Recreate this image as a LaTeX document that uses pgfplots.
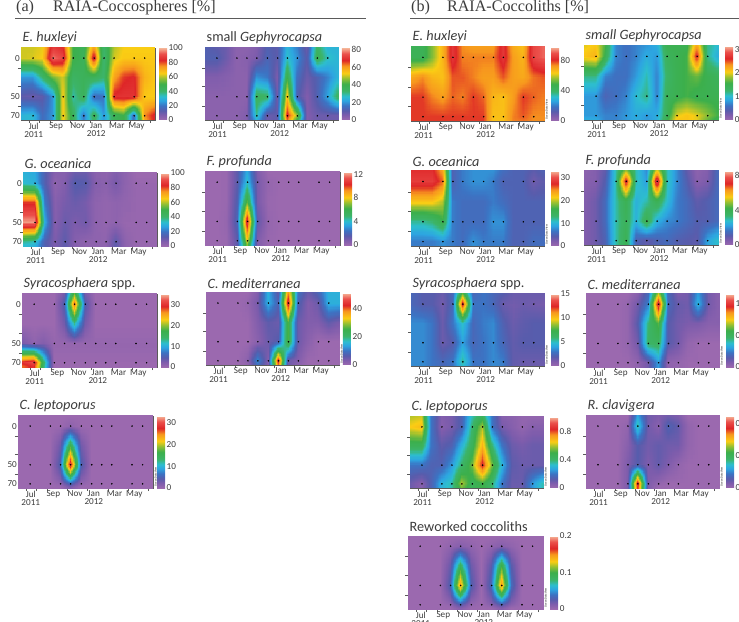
\documentclass[border=0pt]{standalone}
\usepackage{fontspec}
\setmainfont{Carlito}
\newfontfamily\serifhead{Liberation Serif}
\usepackage{pgfplots}
\usepgfplotslibrary{patchplots}
\pgfplotsset{compat=1.18}
\definecolor{frame}{HTML}{5A5A5A}
\definecolor{txt}{HTML}{3C3C3C}
\pgfplotsset{
  colormap={raia}{rgb255(0)=(155,105,175) rgb255(7)=(125,92,172) rgb255(13)=(88,92,172) rgb255(20)=(60,115,195) rgb255(27)=(45,165,225) rgb255(33)=(45,190,205) rgb255(40)=(60,180,105) rgb255(50)=(60,175,75) rgb255(58)=(150,192,50) rgb255(65)=(250,205,20) rgb255(75)=(247,150,30) rgb255(83)=(222,38,40) rgb255(92)=(235,80,75) rgb255(100)=(245,182,152)},
  odv/.style={colorbar style={at={(1.053,1)}},extra description/.append code={\node[rotate=90,anchor=north west,inner sep=0pt,font=\fontsize{2.8}{3}\selectfont] at (rel axis cs:1.012,0.02) {Ocean Data View};}}
}
\def\getx{\ifcase\numexpr\coordindex-14*((2*\coordindex-13)/28)\relax 0\or 1.17\or 2.1\or 3.12\or 4.1\or 5.07\or 6.1\or 7.1\or 8.06\or 9.03\or 10\or 10.98\or 12\or 13\fi}
\def\gety{\ifcase\numexpr(2*\coordindex-13)/28\relax -13\or 0\or 25\or 50\or 74.6\or 80\fi}
% #1 left, #2 top (pixels from the top), #3 width, #4 height, #5 title, #6 colour maximum, #7 colour bar ticks, #8 options, #9 values
\newcommand\panel[9]{%
\begin{axis}[at={(#1bp,622bp-#2bp)},anchor=north west,scale only axis,width=#3bp,height=#4bp,
  xmin=0,xmax=13,ymin=-13,ymax=80,y dir=reverse,
  axis line style={frame,line width=.7bp},
  xtick={1.23,3.4,5.5,7.3,9.3,11.2},
  xticklabels={{Jul\\[-1.2bp]2011},Sep,Nov,{Jan\\[-1.2bp]2012},Mar,May},
  xticklabel style={align=center,font=\fontsize{9.2}{9.5}\selectfont,text=txt,inner sep=0pt,anchor=north,yshift=-2.5bp},
  major tick length=0pt,
  minor xtick={0.84,1.8,2.84,4.77,6.7,8.65,10.6,12.55},
  minor ytick={13,37,62},
  minor tick length=3bp,
  tick align=outside,
  minor tick style={frame,line width=.5bp},
  ytick={0,50,74.6},yticklabels={},
  yticklabel style={font=\fontsize{9.2}{9.5}\selectfont,text=txt,inner sep=1pt},
  xtick pos=bottom,ytick pos=left,
  title={\itshape #5},
  title style={at={(0,1)},anchor=south west,xshift=1.5bp,yshift=-2bp,inner sep=0pt,text=txt,font=\fontsize{14.3}{15}\selectfont},
  colormap name=raia,
  point meta min=0,point meta max=#6,
  colorbar,
  colorbar style={at={(1.03,1)},anchor=north west,width=8bp,
    ytick={#7},
    y tick label style={font=\fontsize{9.2}{9.5}\selectfont,text=txt,inner sep=1.5pt,/pgf/number format/assume math mode=true},
    major tick length=0pt,
    axis line style={draw=none}},
  #8]
\addplot[surf,patch type=bilinear,shader=interp,mesh/rows=6,mesh/cols=14,point meta=explicit]
  table[row sep=crcr,header=false,x expr=\getx,y expr=\gety,meta index=0]{#9};
\addplot[only marks,mark=*,mark size=.55bp,mark options={fill=black!85,draw=none}] coordinates {
(1.17,0)(3.12,0)(4.1,0)(5.07,0)(6.1,0)(7.1,0)(8.06,0)(9.03,0)(10.98,0)(12,0)
(1.17,50)(3.12,50)(4.1,50)(5.07,50)(6.1,50)(7.1,50)(8.06,50)(9.03,50)(10.98,50)(12,50)
(1.17,74.6)(3.12,74.6)(4.1,74.6)(5.07,74.6)(6.1,74.6)(7.1,74.6)(8.06,74.6)(9.03,74.6)(10.98,74.6)(12,74.6)};
\end{axis}}
\begin{document}
\begin{tikzpicture}
\useasboundingbox (0,0) rectangle (739bp,622bp);
\node[anchor=base west,inner sep=0pt,text=txt,font=\serifhead\fontsize{16.2}{17}\selectfont] at (16bp,622bp-12bp) {(a)\hspace{19bp}RAIA-Coccospheres [\%]};
\node[anchor=base west,inner sep=0pt,text=txt,font=\serifhead\fontsize{16.2}{17}\selectfont] at (411bp,622bp-12bp) {(b)\hspace{17bp}RAIA-Coccoliths [\%]};
\draw[frame,line width=1bp] (15bp,622bp-18.5bp) -- (366bp,622bp-18.5bp);
\draw[frame,line width=1bp] (410bp,622bp-18.5bp) -- (739bp,622bp-18.5bp);

\panel{21}{48}{134}{72}{E. huxleyi}{100}{0,20,40,60,80,100}{yticklabels={0,50,70}}{
62\\62\\64\\88\\84\\50\\45\\74\\40\\60\\65\\65\\65\\65\\
62\\63\\65\\95\\90\\50\\45\\88\\38\\62\\66\\66\\66\\66\\
25\\25\\40\\55\\62\\42\\45\\45\\40\\72\\82\\84\\70\\66\\
12\\10\\12\\25\\66\\35\\45\\18\\20\\85\\86\\86\\66\\65\\
30\\32\\18\\25\\66\\45\\20\\45\\25\\45\\50\\18\\75\\85\\
30\\32\\18\\25\\66\\45\\22\\42\\25\\45\\50\\18\\72\\85\\}

\panel{205}{48}{133}{72}{\upshape small \itshape Gephyrocapsa}{82}{0,20,40,60,80}{}{
12\\10\\8\\3\\3\\5\\12\\10\\25\\18\\8\\35\\25\\25\\
12\\12\\8\\3\\4\\6\\13\\10\\27\\20\\10\\38\\28\\25\\
5\\5\\4\\3\\3\\20\\17\\6\\40\\15\\8\\12\\18\\25\\
3\\3\\3\\3\\3\\36\\34\\8\\55\\12\\5\\12\\22\\35\\
3\\3\\3\\3\\5\\30\\8\\10\\70\\48\\5\\8\\8\\8\\
3\\3\\3\\3\\5\\25\\8\\10\\65\\40\\5\\8\\8\\8\\}

\panel{23}{173}{134}{73}{G. oceanica}{100}{0,20,40,60,80,100}{yticklabels={0,50,70}}{
30\\28\\15\\5\\5\\10\\10\\4\\3\\6\\3\\0\\0\\0\\
32\\30\\15\\3\\6\\14\\13\\5\\4\\8\\3\\1\\1\\1\\
82\\82\\22\\5\\8\\10\\8\\3\\2\\3\\2\\1\\1\\1\\
98\\98\\30\\5\\10\\7\\9\\3\\2\\3\\1\\1\\1\\1\\
38\\35\\15\\7\\12\\5\\3\\3\\3\\12\\3\\1\\1\\1\\
32\\30\\15\\7\\12\\5\\3\\3\\3\\12\\3\\1\\1\\1\\}

\panel{205}{172}{135}{73}{F. profunda}{12.4}{0,4,8,12}{}{
0\\0\\.1\\1.5\\3.5\\.8\\0\\0\\0\\0\\0\\0\\0\\0\\
0\\0\\.1\\1.5\\4\\1\\.2\\0\\0\\0\\0\\0\\0\\0\\
0\\0\\.1\\1.8\\6.5\\1\\.1\\0\\0\\0\\0\\0\\0\\0\\
0\\0\\.2\\2\\11\\1.5\\.2\\0\\0\\0\\0\\0\\0\\0\\
0\\0\\.1\\1.5\\8\\.8\\.1\\0\\0\\0\\0\\0\\0\\0\\
0\\0\\.1\\1.5\\7\\.8\\.1\\0\\0\\0\\0\\0\\0\\0\\}

\panel{22}{294}{135}{73}{Syracosphaera \upshape spp.}{35}{0,10,20,30}{yticklabels={0,50,70}}{
0\\0\\0\\0\\3\\19\\3\\0\\0\\0\\0\\0\\0\\0\\
0\\0\\0\\0\\5\\28\\5\\0\\0\\0\\0\\0\\0\\0\\
0\\0\\0\\0\\3\\13\\3\\0\\0\\0\\0\\0\\0\\0\\
3\\1\\2\\.5\\.5\\.5\\.5\\.5\\.5\\.5\\.5\\.5\\.5\\.5\\
30\\32\\15\\0\\0\\0\\0\\0\\0\\0\\0\\0\\0\\0\\
27\\30\\14\\0\\0\\0\\0\\0\\0\\0\\0\\0\\0\\0\\}

\panel{206}{293}{133}{72}{C. mediterranea}{51}{0,20,40}{odv,colorbar style={at={(1.03,1)}}}{
0\\0\\0\\0\\0\\3\\15\\6\\38\\10\\5\\8\\15\\15\\
0\\0\\0\\0\\1\\4\\15\\8\\45\\8\\3\\5\\15\\15\\
0\\0\\0\\0\\0\\3\\6\\5\\26\\5\\3\\3\\6\\4\\
0\\0\\0\\0\\0\\2\\5\\7\\26\\5\\2\\0\\0\\0\\
0\\0\\0\\0\\2\\12\\3\\44\\5\\3\\0\\0\\0\\0\\
0\\0\\0\\0\\1\\10\\3\\40\\5\\2\\0\\0\\0\\0\\}

\panel{18}{416}{135}{72}{C. leptoporus}{33}{0,10,20,30}{yticklabels={0,50,70},odv,colorbar style={at={(1.03,1)}}}{
0\\0\\0\\0\\0\\0\\0\\0\\0\\0\\0\\0\\0\\0\\
0\\0\\0\\0\\0\\1\\0\\0\\0\\0\\0\\0\\0\\0\\
0\\0\\0\\0\\3\\16\\3\\0\\0\\0\\0\\0\\0\\0\\
0\\0\\0\\0\\5\\30\\5\\0\\0\\0\\0\\0\\0\\0\\
0\\0\\0\\0\\1\\6\\1\\0\\0\\0\\0\\0\\0\\0\\
0\\0\\0\\0\\0\\2\\0\\0\\0\\0\\0\\0\\0\\0\\}

\panel{411}{47}{133}{74}{E. huxleyi}{98}{0,40,80}{odv}{
45\\45\\55\\68\\85\\74\\72\\72\\72\\85\\70\\66\\88\\92\\
45\\45\\55\\68\\85\\75\\75\\75\\75\\85\\72\\68\\88\\92\\
70\\74\\68\\66\\78\\78\\75\\72\\72\\78\\72\\70\\76\\78\\
80\\80\\75\\72\\77\\75\\80\\77\\68\\66\\72\\80\\77\\75\\
80\\80\\80\\80\\80\\80\\80\\80\\66\\66\\75\\78\\74\\74\\
80\\80\\80\\80\\80\\80\\80\\80\\66\\66\\75\\76\\74\\74\\}

\panel{584}{46}{134}{74}{small Gephyrocapsa}{31.5}{0,10,20,30}{odv}{
20\\21\\16\\7\\6\\7\\8\\9\\15\\15\\15\\23\\12\\10\\
21\\22\\15\\7\\6\\7\\9\\8\\14\\15\\16\\27\\12\\9\\
12\\12\\7\\6\\6\\8\\11\\7\\13\\15\\16\\17\\15\\14\\
8\\8\\5\\6\\7\\10\\12\\7\\14\\15\\16\\15\\15\\15\\
8\\8\\7\\7\\8\\9\\8\\9\\14\\20\\21\\20\\18\\16\\
9\\9\\7\\7\\8\\9\\8\\9\\15\\21\\21\\20\\17\\15\\}

\panel{411}{171}{133}{75}{G. oceanica}{33}{0,10,20,30}{odv}{
28\\28\\28\\24\\5\\7\\8\\8\\8\\6\\5\\5\\4\\5\\
29\\29\\29\\26\\5\\7\\8\\8\\7\\5\\5\\5\\3\\4\\
22\\22\\22\\20\\7\\6\\6\\6\\7\\6\\5\\5\\5\\5\\
12\\12\\13\\16\\7\\6\\6\\6\\8\\8\\5\\5\\5\\5\\
7\\7\\7\\8\\7\\6\\8\\7\\7\\7\\5\\5\\6\\6\\
7\\7\\7\\8\\7\\6\\8\\7\\7\\7\\5\\5\\6\\6\\}

\panel{584}{171}{134}{74}{F. profunda}{8.5}{0,4,8}{odv}{
.3\\.5\\1\\3\\5\\3\\2\\5.5\\3\\2\\1\\.3\\.5\\1.5\\
.4\\.5\\1.2\\3\\7.5\\3\\2.2\\8\\3\\2\\1.2\\.4\\.6\\1.5\\
.5\\.8\\1.5\\3\\4\\2.5\\3\\4\\2.8\\1.8\\1.5\\1\\1.2\\1.5\\
.5\\.8\\1.5\\3\\3.8\\2.5\\4\\2.5\\2\\1.8\\1.5\\1.2\\1.2\\1.5\\
.5\\.8\\1.3\\3\\4\\1.3\\1\\1.3\\1.5\\1.2\\1.1\\1\\2.3\\2.8\\
.5\\.8\\1.3\\3\\4\\1.3\\1\\1.3\\1.5\\1.2\\1.1\\1\\2.3\\2.8\\}

\panel{411}{294}{133}{72}{Syracosphaera \upshape spp.}{15}{0,5,10,15}{odv}{
2.5\\2\\2\\1.5\\2.5\\8\\2.5\\3\\2.5\\2\\1.5\\1.5\\1.5\\1.5\\
2.5\\2\\2\\1.3\\2.5\\13\\3\\3\\2.5\\1.5\\1.3\\1.5\\1.3\\1.2\\
3.5\\3.5\\3\\1.5\\3\\5\\2.5\\3.2\\3.5\\2.2\\1.5\\1.8\\2\\2\\
3.5\\3.5\\3\\1.5\\2\\4\\2.5\\3\\3.5\\2.5\\1.7\\2\\2\\2\\
3.5\\3.5\\3\\2.5\\3\\5.5\\3\\3\\3.5\\3.2\\1.7\\1.5\\1.5\\1.5\\
3.5\\3.5\\3\\2.5\\3\\5\\3\\3\\3.5\\3.2\\1.7\\1.5\\1.5\\1.5\\}

\panel{586}{294}{133}{73}{C. mediterranea}{1.15}{0,0.5,1}{odv}{
0\\0\\0\\0\\0\\.05\\.2\\.7\\.2\\.08\\.1\\.3\\.1\\.05\\
0\\0\\0\\0\\.02\\.1\\.25\\1.05\\.2\\.12\\.1\\.35\\.1\\.05\\
0\\0\\0\\0\\.02\\.15\\.45\\.6\\.15\\.1\\.08\\.08\\.05\\.05\\
0\\0\\0\\0\\.02\\.1\\.48\\.5\\.15\\.1\\.02\\0\\0\\0\\
0\\0\\0\\0\\0\\.03\\.1\\.3\\.03\\.02\\0\\0\\0\\0\\
0\\0\\0\\0\\0\\.03\\.1\\.3\\.03\\.02\\0\\0\\0\\0\\}

\panel{410}{417}{133}{71}{C. leptoporus}{1}{0,0.4,0.8}{odv}{
.6\\.62\\.2\\.06\\.08\\.15\\.35\\.45\\.2\\.05\\.04\\.02\\.02\\.02\\
.65\\.68\\.2\\.05\\.08\\.15\\.4\\.6\\.2\\.08\\.05\\.02\\.05\\.05\\
.45\\.45\\.2\\.12\\.15\\.3\\.45\\.7\\.4\\.2\\.1\\.08\\.1\\.1\\
.2\\.2\\.15\\.15\\.25\\.4\\.55\\.85\\.55\\.3\\.12\\.1\\.1\\.1\\
.1\\.05\\.15\\.3\\.35\\.6\\.45\\.5\\.4\\.2\\.1\\.1\\.25\\.35\\
.1\\.05\\.15\\.3\\.35\\.55\\.45\\.5\\.4\\.2\\.1\\.1\\.25\\.35\\}

\panel{586}{416}{133}{72}{R. clavigera}{.45}{0,0.2,0.4}{odv}{
0\\0\\0\\0\\0\\.12\\.04\\.03\\.04\\.03\\0\\0\\0\\0\\
0\\0\\0\\0\\.01\\.16\\.04\\.02\\.07\\.05\\.01\\0\\0\\0\\
0\\0\\0\\0\\.02\\.06\\.04\\.05\\.04\\.04\\.01\\0\\0\\0\\
0\\0\\0\\0\\.03\\.06\\.03\\.05\\.03\\.01\\0\\0\\0\\0\\
0\\0\\0\\0\\.03\\.4\\.03\\.01\\0\\0\\0\\0\\0\\0\\
0\\0\\0\\0\\.03\\.38\\.03\\0\\0\\0\\0\\0\\0\\0\\}

\panel{408}{536}{135}{73}{\upshape Reworked coccoliths}{.2}{0,0.1,0.2}{odv}{
0\\0\\0\\0\\0\\0\\0\\0\\0\\0\\0\\0\\0\\0\\
0\\0\\0\\0\\.005\\.01\\.005\\0\\.005\\.01\\.005\\0\\0\\0\\
0\\0\\0\\0\\.02\\.09\\.02\\0\\.025\\.1\\.025\\0\\0\\0\\
0\\0\\0\\0\\.03\\.15\\.03\\0\\.035\\.15\\.035\\0\\0\\0\\
0\\0\\0\\0\\.005\\.03\\.005\\0\\.01\\.03\\.01\\0\\0\\0\\
0\\0\\0\\0\\0\\.01\\0\\0\\0\\.01\\0\\0\\0\\0\\}
\end{tikzpicture}
\end{document}
